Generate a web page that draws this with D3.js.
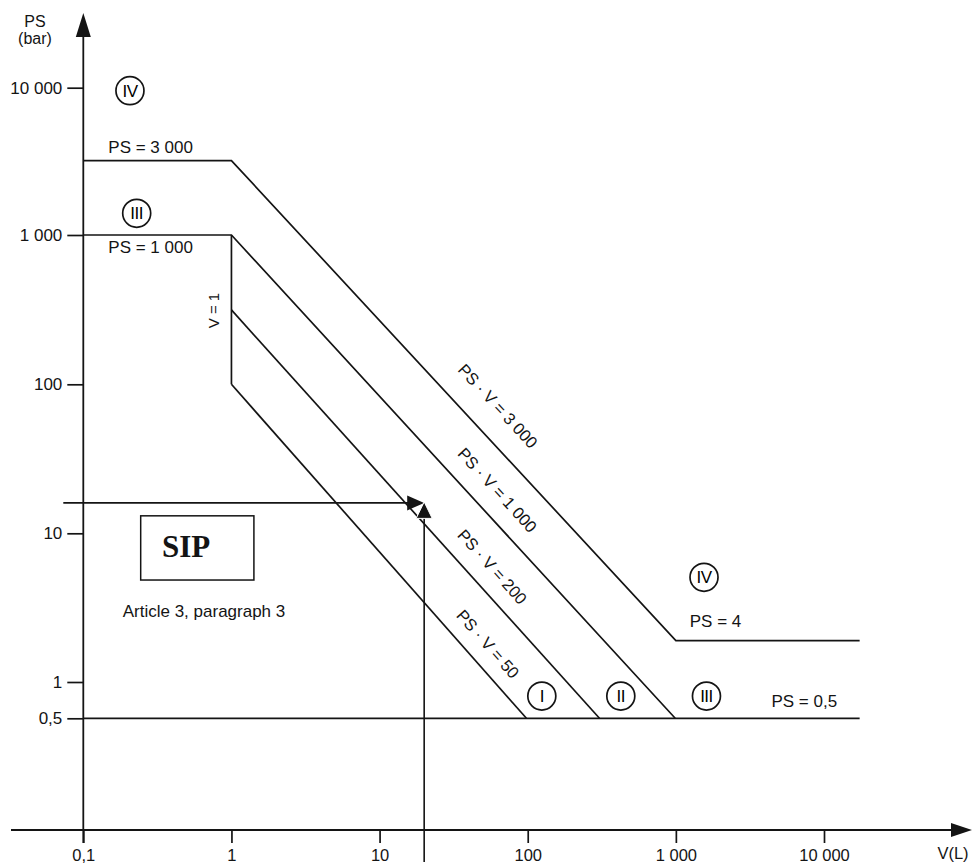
<!DOCTYPE html>
<html>
<head>
<meta charset="utf-8">
<script src="https://cdn.jsdelivr.net/npm/d3@7"></script>
<style>
  body { margin: 0; background: #fff; }
  svg { display: block; font-family: "Liberation Sans", Arial, Helvetica, sans-serif; }
</style>
</head>
<body>
<div id="container"></div>
<script>
// Volume V (L) on x, pressure PS (bar) on y, both logarithmic
const xTicks = [0.1, 1, 10, 100, 1000, 10000];
const xTickLabels = ["0,1", "1", "10", "100", "1 000", "10 000"];
const yTicks = [0.5, 1, 10, 100, 1000, 10000];
const yTickLabels = ["0,5", "1", "10", "100", "1 000", "10 000"];

// category limits as [V, PS] points (as drawn in the picture)
const limit3000 = [[0.1, 3200], [1, 3200], [1000, 1.9], [17400, 1.9]];
const limit1000 = [[0.1, 1000], [1, 1000], [990, 0.5]];
const limitV1 = [[1, 1000], [1, 100]];
const limit200 = [[1, 315], [305, 0.5]];
const limit50 = [[1, 100], [98, 0.5]];
const limit05 = [[0.1, 0.5], [17400, 0.5]];

const diagLabels = ["PS · V = 3 000", "PS · V = 1 000", "PS · V = 200", "PS · V = 50"];
const diagLabelAt = [[62.9, 71.5], [62.4, 19.5], [57.7, 5.96], [53.8, 1.8]];

const limitLabels = ["PS = 3 000", "PS = 1 000", "PS = 4", "PS = 0,5"];
const limitLabelAt = [[0.1475, 3590], [0.1475, 754], [1241, 2.33], [4416, 0.616]];

const categories = ["IV", "III", "IV", "I", "II", "III"];
const categoryAt = [[0.2065, 9550], [0.2293, 1404], [1549, 5.06], [124.5, 0.765], [425, 0.765], [1609, 0.765]];

const sipPoint = [20, 16];
const sipBox = [[0.244, 13.1], [1.418, 4.85]];
const sipTextAt = [0.495, 6.9];
const articleAt = [0.1845, 2.75];
const v1LabelAt = [0.754, 312];

const width = 973, height = 865;
const axisY = 830;
const ink = "#141414";

const x = d3.scaleLog().domain([0.1, 10000]).range([83.3, 824]);
const y = d3.scaleLog()
  .domain([0.5, 1, 10, 100, 1000, 10000])
  .range([718.3, 682, 533.3, 384.3, 235, 87.7]);
const axisX = x(0.1);

const svg = d3.select("#container")
  .append("svg")
  .attr("width", width)
  .attr("height", height);

svg.append("rect").attr("width", width).attr("height", height).attr("fill", "#fff");

const line = d3.line().x(d => x(d[0])).y(d => y(d[1]));

// limit lines
svg.selectAll("path.limit")
  .data([limit3000, limit1000, limitV1, limit200, limit50, limit05])
  .enter()
  .append("path")
  .attr("class", "limit")
  .attr("d", line)
  .attr("fill", "none")
  .attr("stroke", ink)
  .attr("stroke-width", 1.7)
  .attr("stroke-linejoin", "miter");

// Axes
const xAxis = svg.append("g")
  .attr("transform", `translate(0,${axisY})`)
  .call(d3.axisBottom(x).tickValues(xTicks).tickFormat((d, i) => xTickLabels[i]).tickSize(13).tickPadding(6))
  .attr("font-size", null).attr("font-family", null);
xAxis.select(".domain").remove();

const yAxis = svg.append("g")
  .attr("transform", `translate(${axisX},0)`)
  .call(d3.axisLeft(y).tickValues(yTicks).tickFormat((d, i) => yTickLabels[i]).tickSize(16).tickPadding(5))
  .attr("font-size", null).attr("font-family", null);
yAxis.select(".domain").remove();

svg.selectAll(".tick line").attr("stroke", ink).attr("stroke-width", 1.7);
xAxis.selectAll(".tick text").attr("fill", ink).style("font-size", "16.5px");
yAxis.selectAll(".tick text").attr("fill", ink).style("font-size", "17px");

// axis lines with arrowheads
svg.append("line")
  .attr("x1", 11).attr("x2", 952).attr("y1", axisY).attr("y2", axisY)
  .attr("stroke", ink).attr("stroke-width", 1.8);
svg.append("path")
  .attr("d", `M972,${axisY}L951,${axisY - 7}L951,${axisY + 7}Z`)
  .attr("fill", ink);
svg.append("line")
  .attr("x1", axisX).attr("x2", axisX).attr("y1", 843).attr("y2", 36)
  .attr("stroke", ink).attr("stroke-width", 1.8);
svg.append("path")
  .attr("d", `M${axisX},13L${axisX - 7.5},37L${axisX + 7.5},37Z`)
  .attr("fill", ink);

// Axis titles
svg.append("text").attr("x", 35).attr("y", 27).attr("text-anchor", "middle")
  .style("font-size", "16px").attr("fill", ink).text("PS");
svg.append("text").attr("x", 35).attr("y", 44).attr("text-anchor", "middle")
  .style("font-size", "16px").attr("fill", ink).text("(bar)");
svg.append("text").attr("x", 953).attr("y", 859).attr("text-anchor", "middle")
  .style("font-size", "16.5px").attr("fill", ink).text("V(L)");

// diagonal labels, rotated along their lines
const diagLines = [limit3000.slice(1, 3), limit1000.slice(1, 3), limit200, limit50];
svg.selectAll("text.diag")
  .data(diagLabels)
  .enter()
  .append("text")
  .attr("class", "diag")
  .attr("text-anchor", "middle")
  .attr("dy", "0.35em")
  .attr("transform", (d, i) => {
    const p = diagLines[i];
    const ang = Math.atan2(y(p[1][1]) - y(p[0][1]), x(p[1][0]) - x(p[0][0])) * 180 / Math.PI;
    return `translate(${x(diagLabelAt[i][0])},${y(diagLabelAt[i][1])}) rotate(${ang})`;
  })
  .style("font-size", "16.5px")
  .attr("fill", ink)
  .text(d => d);

// horizontal limit labels
svg.selectAll("text.limitLabel")
  .data(limitLabels)
  .enter()
  .append("text")
  .attr("class", "limitLabel")
  .attr("x", (d, i) => x(limitLabelAt[i][0]))
  .attr("y", (d, i) => y(limitLabelAt[i][1]))
  .style("font-size", "17px")
  .attr("fill", ink)
  .text(d => d);

// V = 1
svg.append("text")
  .attr("transform", `translate(${x(v1LabelAt[0])},${y(v1LabelAt[1])}) rotate(-90)`)
  .attr("text-anchor", "middle")
  .attr("dy", "0.35em")
  .style("font-size", "15px")
  .attr("fill", ink)
  .text("V = 1");

// circled categories
const cat = svg.selectAll("g.cat")
  .data(categories)
  .enter()
  .append("g")
  .attr("class", "cat")
  .attr("transform", (d, i) => `translate(${x(categoryAt[i][0])},${y(categoryAt[i][1])})`);
cat.append("circle")
  .attr("r", 14)
  .attr("fill", "#fff")
  .attr("stroke", ink)
  .attr("stroke-width", 1.7);
cat.append("text")
  .attr("text-anchor", "middle")
  .attr("dy", "0.36em")
  .style("font-size", "17px")
  .style("letter-spacing", "-0.5px")
  .attr("fill", "#000")
  .text(d => d);

// SIP box
svg.append("rect")
  .attr("x", x(sipBox[0][0]))
  .attr("y", y(sipBox[0][1]))
  .attr("width", x(sipBox[1][0]) - x(sipBox[0][0]))
  .attr("height", y(sipBox[1][1]) - y(sipBox[0][1]))
  .attr("fill", "none")
  .attr("stroke", ink)
  .attr("stroke-width", 1.5);
svg.append("text")
  .attr("x", x(sipTextAt[0]))
  .attr("y", y(sipTextAt[1]))
  .attr("text-anchor", "middle")
  .style("font-family", "'Liberation Serif', 'Times New Roman', serif")
  .style("font-weight", "bold")
  .style("font-size", "31px")
  .attr("fill", ink)
  .text("SIP");
svg.append("text")
  .attr("x", x(articleAt[0]))
  .attr("y", y(articleAt[1]))
  .style("font-size", "17px")
  .attr("fill", ink)
  .text("Article 3, paragraph 3");

// arrows pointing at the example vessel
const px = x(sipPoint[0]), py = y(sipPoint[1]);
svg.append("line")
  .attr("x1", axisX - 20).attr("x2", px - 14).attr("y1", py).attr("y2", py)
  .attr("stroke", ink).attr("stroke-width", 1.6);
svg.append("path")
  .attr("d", `M${px},${py}L${px - 17},${py - 7.5}L${px - 17},${py + 7.5}Z`)
  .attr("fill", ink);
svg.append("line")
  .attr("x1", px).attr("x2", px).attr("y1", axisY + 32).attr("y2", py + 14)
  .attr("stroke", ink).attr("stroke-width", 1.6);
svg.append("path")
  .attr("d", `M${px},${py - 1}L${px - 8},${py + 15.5}L${px + 8},${py + 15.5}Z`)
  .attr("fill", ink)
  .attr("stroke", "#fff")
  .attr("stroke-width", 1);
</script>
</body>
</html>
